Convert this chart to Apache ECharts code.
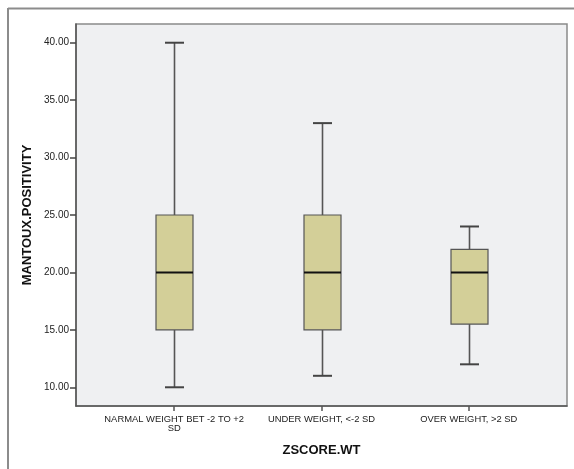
<!DOCTYPE html>
<html>
<head>
<meta charset="utf-8">
<script src="https://cdn.jsdelivr.net/npm/echarts@6/dist/echarts.min.js"></script>
<style>
html,body{margin:0;padding:0;background:#fff;}
#c{width:574px;height:469px;}
</style>
</head>
<body>
<div id="c"></div>
<script>
const categories = ["NARMAL WEIGHT BET -2 TO +2\nSD", "UNDER WEIGHT, <-2 SD", "OVER WEIGHT, >2 SD"];
const whiskerLow = [10, 11, 12];
const q1 = [15, 15, 15.5];
const median = [20, 20, 20];
const q3 = [25, 25, 22];
const whiskerHigh = [40, 33, 24];
const yTicks = [10, 15, 20, 25, 30, 35, 40];

const data = categories.map((c, i) => [i, whiskerLow[i], q1[i], median[i], q3[i], whiskerHigh[i]]);

const chart = echarts.init(document.getElementById('c'), null, {renderer: 'canvas'});
const font = 'Arial, "Liberation Sans", sans-serif';

chart.setOption({
  animation: false,
  backgroundColor: '#ffffff',
  grid: {
    left: 76, top: 24, right: 7, bottom: 63,
    show: true, backgroundColor: '#eff0f2', borderColor: '#8a8a8a', borderWidth: 1.5
  },
  graphic: [
    {type: 'line', shape: {x1: 8, y1: 8.5, x2: 574, y2: 8.5}, style: {stroke: '#8c8c8c', lineWidth: 2}},
    {type: 'line', shape: {x1: 8, y1: 8, x2: 8, y2: 469}, style: {stroke: '#8c8c8c', lineWidth: 2}}
  ],
  xAxis: {
    type: 'value',
    min: -2/3, max: 8/3,
    name: 'ZSCORE.WT',
    nameLocation: 'middle',
    nameGap: 38,
    nameTextStyle: {fontFamily: font, fontWeight: 'bold', fontSize: 13, color: '#111'},
    axisLine: {show: true, onZero: false, lineStyle: {color: '#555', width: 1.5}},
    axisTick: {show: true, length: 5, lineStyle: {color: '#555', width: 1.5}, customValues: [0, 1, 2]},
    axisLabel: {
      customValues: [0, 1, 2],
      formatter: v => categories[Math.round(v)],
      fontFamily: font, fontSize: 9.4, color: '#222', margin: 9, lineHeight: 9
    },
    splitLine: {show: false}
  },
  yAxis: {
    type: 'value',
    min: 8.37, max: 41.63,
    name: 'MANTOUX.POSITIVITY',
    nameLocation: 'middle',
    nameGap: 42,
    nameMoveOverlap: false,
    nameRotate: 90,
    nameTextStyle: {fontFamily: font, fontWeight: 'bold', fontSize: 13, color: '#111'},
    axisLine: {show: true, onZero: false, lineStyle: {color: '#555', width: 1.5}},
    axisTick: {show: true, length: 6, lineStyle: {color: '#444', width: 1.5}, customValues: yTicks},
    axisLabel: {
      customValues: yTicks,
      formatter: v => v.toFixed(2),
      fontFamily: font, fontSize: 10, color: '#222', margin: 7
    },
    splitLine: {show: false}
  },
  series: [{
    type: 'custom',
    data: data,
    encode: {x: 0, y: [1, 2, 3, 4, 5]},
    renderItem: function (params, api) {
      const x = api.value(0);
      const pLo = api.coord([x, api.value(1)]);
      const pQ1 = api.coord([x, api.value(2)]);
      const pMed = api.coord([x, api.value(3)]);
      const pQ3 = api.coord([x, api.value(4)]);
      const pHi = api.coord([x, api.value(5)]);
      const cx = Math.round(pMed[0]) + 0.5;
      const bw = 37, cw = 19;
      const stemStyle = {stroke: '#555', lineWidth: 1.6};
      const capStyle = {stroke: '#444', lineWidth: 2};
      return {
        type: 'group',
        children: [
          {type: 'line', shape: {x1: cx, y1: pLo[1], x2: cx, y2: pQ1[1]}, style: stemStyle},
          {type: 'line', shape: {x1: cx, y1: pQ3[1], x2: cx, y2: pHi[1]}, style: stemStyle},
          {type: 'line', shape: {x1: cx - cw / 2, y1: pLo[1], x2: cx + cw / 2, y2: pLo[1]}, style: capStyle},
          {type: 'line', shape: {x1: cx - cw / 2, y1: pHi[1], x2: cx + cw / 2, y2: pHi[1]}, style: capStyle},
          {type: 'rect', shape: {x: cx - bw / 2, y: pQ3[1], width: bw, height: pQ1[1] - pQ3[1]},
            style: {fill: '#d3cf98', stroke: '#555', lineWidth: 1.2}},
          {type: 'line', shape: {x1: cx - bw / 2, y1: pMed[1], x2: cx + bw / 2, y2: pMed[1]}, style: {stroke: '#111', lineWidth: 2}}
        ]
      };
    }
  }]
});
</script>
</body>
</html>
